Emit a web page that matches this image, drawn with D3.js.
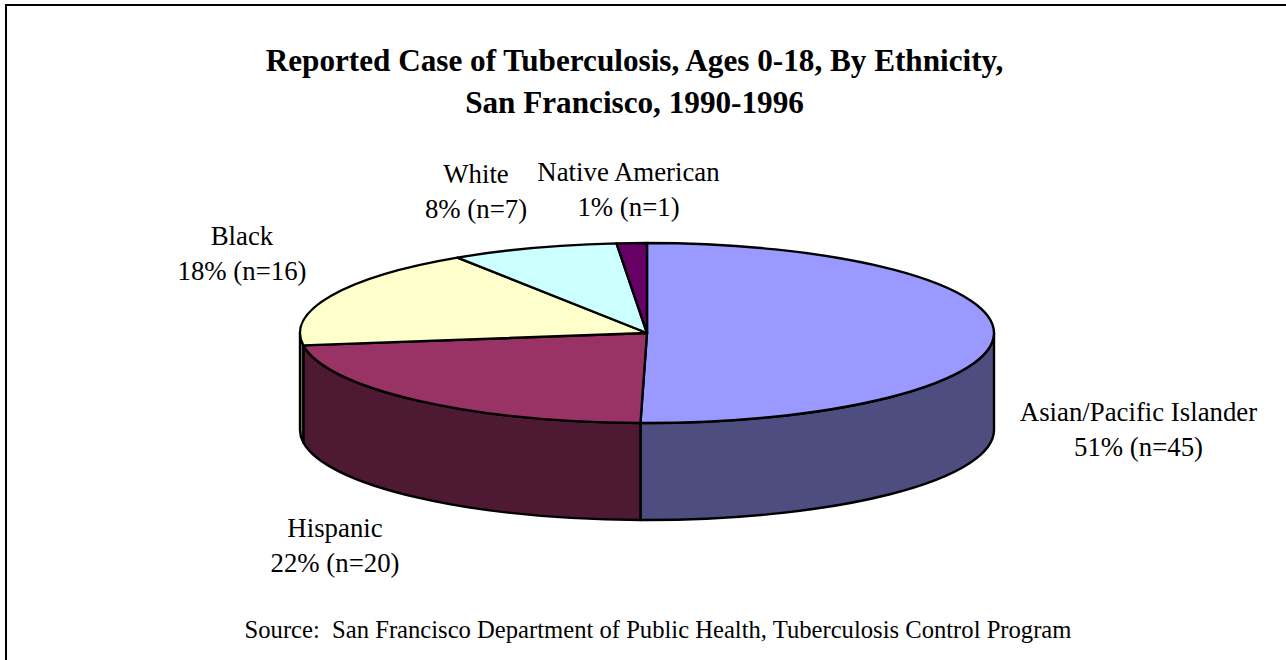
<!DOCTYPE html>
<html><head><meta charset="utf-8">
<script src="https://cdn.jsdelivr.net/npm/d3@7"></script>
<style>html,body{margin:0;padding:0;background:#fff}svg{display:block}text{font-family:"Liberation Serif",serif;fill:#000;white-space:pre}</style>
</head><body><svg id="c" width="1286" height="660"></svg>
<script>
const categories=["Asian/Pacific Islander","Hispanic","Black","White","Native American"];
const counts=[45,20,16,7,1];
const percents=[51,22,18,8,1];
// slice shares as drawn in the picture (in percent of the turn)
const sliceShares=[50.3,22.5,18.0,7.8,1.4];
const topColors=["#9999FF","#993366","#FFFFCC","#CCFFFF","#660066"];
const sideColors=["#4D4D80","#4D1933","#80805F","#608080","#330033"];
const titleLines=["Reported Case of Tuberculosis, Ages 0-18, By Ethnicity,","San Francisco, 1990-1996"];
const sourceText="Source:  San Francisco Department of Public Health, Tuberculosis Control Program";

const svg=d3.select("#c");
const W=1286,H=660,cx=647,cy=333,rx=347,ry=90,depth=97;
svg.append("rect").attr("x",6).attr("y",5).attr("width",W+20).attr("height",H+20).attr("fill","#fff").attr("stroke","#000").attr("stroke-width",2);

const pie=d3.pie().sort(null).value(d=>d)(sliceShares);
const px=a=>cx+rx*Math.sin(a), py=a=>cy-ry*Math.cos(a);
const lo=Math.PI/2,hi=Math.PI*1.5;
const g=svg.append("g").attr("stroke","#000").attr("stroke-width",2.4).attr("stroke-linejoin","round");
pie.forEach((s,i)=>{
  const a=Math.max(s.startAngle,lo),b=Math.min(s.endAngle,hi);
  if(b<=a)return;
  const d=`M${px(a)},${py(a)}A${rx},${ry} 0 0 1 ${px(b)},${py(b)}L${px(b)},${py(b)+depth}A${rx},${ry} 0 0 0 ${px(a)},${py(a)+depth}Z`;
  g.append("path").attr("d",d).attr("fill",sideColors[i]);
});
pie.forEach((s,i)=>{
  const large=s.endAngle-s.startAngle>Math.PI?1:0;
  const d=`M${cx},${cy}L${px(s.startAngle)},${py(s.startAngle)}A${rx},${ry} 0 ${large} 1 ${px(s.endAngle)},${py(s.endAngle)}Z`;
  g.append("path").attr("d",d).attr("fill",topColors[i]);
});
const T=(x,y,t,size,weight)=>svg.append("text").attr("x",x).attr("y",y).attr("text-anchor","middle").attr("font-size",size).attr("font-weight",weight||"normal").text(t);
T(634.5,71,titleLines[0],31.2,"bold");
T(634.5,113,titleLines[1],31.2,"bold");
const labelAt=[[1138.5,421],[335,537],[242,245],[476,183],[628.5,181]];
categories.forEach((c,i)=>{
  const [x,y]=labelAt[i];
  T(x,y,c,26.8);
  T(x,y+35,`${percents[i]}% (n=${counts[i]})`,26.8);
});
T(658,638,sourceText,24.64);
</script></body></html>
